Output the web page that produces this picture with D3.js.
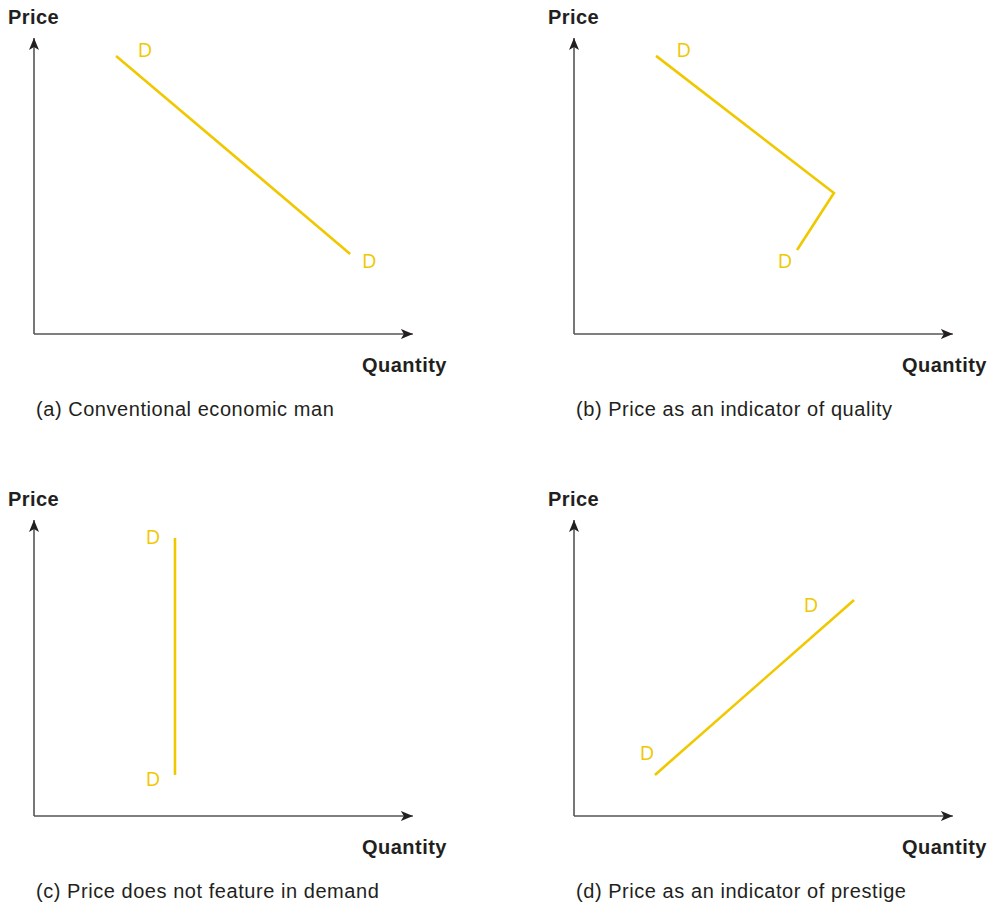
<!DOCTYPE html>
<html><head><meta charset="utf-8">
<script src="https://cdn.jsdelivr.net/npm/d3@7"></script>
<style>body{margin:0;background:#fff}svg{display:block}</style>
</head><body>
<svg id="chart" width="989" height="903"></svg>
<script>
// Panels and data (x = quantity, y = price, 0-100 units)
const panelIds = ["a","b","c","d"];
const captions = ["(a) Conventional economic man","(b) Price as an indicator of quality","(c) Price does not feature in demand","(d) Price as an indicator of prestige"];
const curveA = [{x:21.6,y:92.7},{x:83.2,y:26.7}];
const curveB = [{x:21.6,y:92.7},{x:68.4,y:47.0},{x:58.7,y:28.0}];
const curveC = [{x:37.1,y:92.7},{x:37.1,y:13.7}];
const curveD = [{x:21.3,y:13.7},{x:73.7,y:72.0}];
const curves = [curveA,curveB,curveC,curveD];
// label anchors (data units) for the two "D" labels per panel
const labelsA = [{x:29.2,y:94.7},{x:88.2,y:24.5}];
const labelsB = [{x:28.9,y:94.7},{x:55.5,y:24.5}];
const labelsC = [{x:31.3,y:93.0},{x:31.3,y:12.4}];
const labelsD = [{x:19.2,y:21.0},{x:62.4,y:70.4}];
const labels = [labelsA,labelsB,labelsC,labelsD];

const svg = d3.select("#chart");
const origins = [[34,334],[574,334],[34,816],[574,816]];
const yellow = "#f0c800", axisCol = "#555", textCol = "#231f20";
const font = "'Liberation Sans', Arial, Helvetica, sans-serif";

const defs = svg.append("defs");
defs.append("marker").attr("id","arr").attr("viewBox","0 0 12 10").attr("refX",12).attr("refY",5)
  .attr("markerWidth",12).attr("markerHeight",10).attr("markerUnits","userSpaceOnUse").attr("orient","auto")
  .append("path").attr("d","M0,0 L12,5 L0,10 L3,5 Z").attr("fill","#231f20");

panelIds.forEach((id,i)=>{
  const [ox,oy] = origins[i];
  const x = d3.scaleLinear().domain([0,100]).range([ox, ox+380]);
  const y = d3.scaleLinear().domain([0,100]).range([oy, oy-300]);
  const g = svg.append("g");
  // axes
  g.append("line").attr("x1",x(0)).attr("y1",y(0)).attr("x2",x(0)).attr("y2",y(98.7))
    .attr("stroke",axisCol).attr("stroke-width",1.6).attr("marker-end","url(#arr)");
  g.append("line").attr("x1",x(0)).attr("y1",y(0)).attr("x2",x(99.7)).attr("y2",y(0))
    .attr("stroke",axisCol).attr("stroke-width",1.6).attr("marker-end","url(#arr)");
  g.append("text").attr("x",ox-26).attr("y",oy-310).text("Price")
    .attr("font-family",font).attr("font-weight","bold").attr("font-size",20).attr("letter-spacing",0.4).attr("fill",textCol);
  g.append("text").attr("x",ox+413).attr("y",oy+38).attr("text-anchor","end").text("Quantity")
    .attr("font-family",font).attr("font-weight","bold").attr("font-size",20).attr("letter-spacing",0.5).attr("fill",textCol);
  g.append("text").attr("x",ox+2).attr("y",oy+82).text(captions[i])
    .attr("font-family",font).attr("font-size",20).attr("letter-spacing",0.55).attr("fill",textCol);
  // curve
  g.append("path").datum(curves[i])
    .attr("d", d3.line().x(d=>x(d.x)).y(d=>y(d.y)))
    .attr("fill","none").attr("stroke",yellow).attr("stroke-width",2.6).attr("stroke-linejoin","miter");
  g.selectAll("text.d").data(labels[i]).enter().append("text").attr("class","d")
    .attr("x",d=>x(d.x)).attr("y",d=>y(d.y)).attr("dy","0.35em").attr("text-anchor","middle")
    .text("D").attr("font-family","'Open Sans', sans-serif").attr("font-size",20).attr("fill",yellow);
});
</script>
</body></html>
